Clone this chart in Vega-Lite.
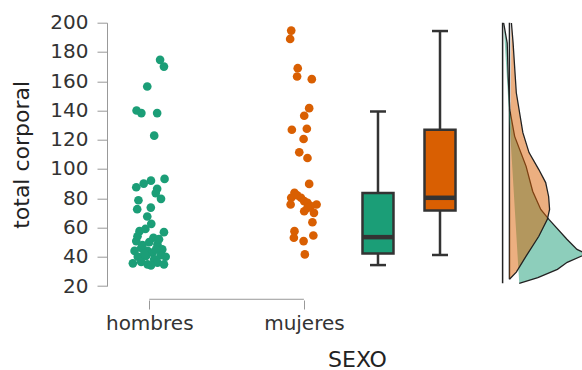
{
  "$schema": "https://vega.github.io/schema/vega-lite/v6.json",
  "autosize": "none",
  "width": 472,
  "height": 263.3,
  "padding": {"left": 110, "top": 22.7, "right": 0, "bottom": 84},
  "config": {"view": {"stroke": null}, "font": "DejaVu Sans", "axis": {"labelOverlap": false}, "axisY": {"labelOverlap": false, "tickCount": 10}},
  "datasets": {
    "points": [
      {"SEXO":"hombres","pos":1.070,"total":174.6},{"SEXO":"hombres","pos":1.095,"total":170},{"SEXO":"hombres","pos":0.987,"total":156.4},{"SEXO":"hombres","pos":0.918,"total":140},{"SEXO":"hombres","pos":0.949,"total":138.2},{"SEXO":"hombres","pos":1.051,"total":138.2},{"SEXO":"hombres","pos":1.032,"total":122.8},{"SEXO":"hombres","pos":1.099,"total":93.2},{"SEXO":"hombres","pos":1.011,"total":92},{"SEXO":"hombres","pos":0.964,"total":90},{"SEXO":"hombres","pos":0.916,"total":87.5},{"SEXO":"hombres","pos":1.051,"total":86.4},{"SEXO":"hombres","pos":1.042,"total":83.5},{"SEXO":"hombres","pos":1.076,"total":79.6},{"SEXO":"hombres","pos":0.930,"total":78.6},{"SEXO":"hombres","pos":0.922,"total":72.5},{"SEXO":"hombres","pos":1.010,"total":73.6},{"SEXO":"hombres","pos":0.987,"total":67.5},{"SEXO":"hombres","pos":1.013,"total":62.5},{"SEXO":"hombres","pos":1.095,"total":56.8},{"SEXO":"hombres","pos":0.937,"total":57.5},{"SEXO":"hombres","pos":0.975,"total":59},{"SEXO":"hombres","pos":1.027,"total":53},{"SEXO":"hombres","pos":0.916,"total":50.7},{"SEXO":"hombres","pos":1.053,"total":48.4},{"SEXO":"hombres","pos":0.948,"total":46},{"SEXO":"hombres","pos":1.084,"total":45},{"SEXO":"hombres","pos":0.905,"total":44},{"SEXO":"hombres","pos":0.989,"total":44},{"SEXO":"hombres","pos":1.021,"total":42.8},{"SEXO":"hombres","pos":1.074,"total":41},{"SEXO":"hombres","pos":0.926,"total":40},{"SEXO":"hombres","pos":0.979,"total":40.5},{"SEXO":"hombres","pos":1.106,"total":40},{"SEXO":"hombres","pos":1.032,"total":38.2},{"SEXO":"hombres","pos":0.948,"total":36.4},{"SEXO":"hombres","pos":1.053,"total":36},{"SEXO":"hombres","pos":0.989,"total":34.8},{"SEXO":"hombres","pos":1.095,"total":34.8},{"SEXO":"hombres","pos":0.894,"total":35.5},{"SEXO":"hombres","pos":1.011,"total":34},{"SEXO":"hombres","pos":0.956,"total":48},{"SEXO":"hombres","pos":1.0,"total":50},{"SEXO":"hombres","pos":0.924,"total":54},{"SEXO":"hombres","pos":1.063,"total":52},{"SEXO":"hombres","pos":0.968,"total":42},{"SEXO":"hombres","pos":1.044,"total":45},
      {"SEXO":"mujeres","pos":1.918,"total":194.6},{"SEXO":"mujeres","pos":1.911,"total":188.9},{"SEXO":"mujeres","pos":1.960,"total":168.9},{"SEXO":"mujeres","pos":1.956,"total":163.2},{"SEXO":"mujeres","pos":2.051,"total":161.4},{"SEXO":"mujeres","pos":2.034,"total":141.6},{"SEXO":"mujeres","pos":2.002,"total":136.4},{"SEXO":"mujeres","pos":2.019,"total":127.5},{"SEXO":"mujeres","pos":1.922,"total":126.8},{"SEXO":"mujeres","pos":1.998,"total":120.5},{"SEXO":"mujeres","pos":1.970,"total":111.4},{"SEXO":"mujeres","pos":2.023,"total":107.5},{"SEXO":"mujeres","pos":2.034,"total":89.8},{"SEXO":"mujeres","pos":1.939,"total":83.7},{"SEXO":"mujeres","pos":1.918,"total":80.3},{"SEXO":"mujeres","pos":1.981,"total":80.3},{"SEXO":"mujeres","pos":2.002,"total":78},{"SEXO":"mujeres","pos":1.914,"total":75.7},{"SEXO":"mujeres","pos":2.023,"total":76.8},{"SEXO":"mujeres","pos":2.082,"total":75.7},{"SEXO":"mujeres","pos":2.044,"total":74.6},{"SEXO":"mujeres","pos":2.002,"total":71.1},{"SEXO":"mujeres","pos":2.065,"total":70},{"SEXO":"mujeres","pos":2.055,"total":63.6},{"SEXO":"mujeres","pos":1.939,"total":57.5},{"SEXO":"mujeres","pos":1.935,"total":53},{"SEXO":"mujeres","pos":2.061,"total":54.5},{"SEXO":"mujeres","pos":1.998,"total":50.7},{"SEXO":"mujeres","pos":2.006,"total":41.6},{"SEXO":"mujeres","pos":2.023,"total":73.4},{"SEXO":"mujeres","pos":1.956,"total":82}
    ],
    "box": [
      {"SEXO":"hombres","pos":2.479,"min":34.3,"q1":42.3,"median":53.4,"q3":83.6,"max":139.3},
      {"SEXO":"mujeres","pos":2.880,"min":41.2,"q1":71.6,"median":80.3,"q3":126.8,"max":194.3}
    ],
    "base": [
      {"SEXO":"hombres","pos":3.2848,"top":200,"bottom":21.8},
      {"SEXO":"mujeres","pos":3.3291,"top":200,"bottom":24.6}
    ],
    "density": [
      {"SEXO":"hombres","v":200,"pos":3.2911},{"SEXO":"hombres","v":186,"pos":3.3146},{"SEXO":"hombres","v":163,"pos":3.3209},{"SEXO":"hombres","v":140.5,"pos":3.3310},{"SEXO":"hombres","v":122.3,"pos":3.3627},{"SEXO":"hombres","v":101.8,"pos":3.4367},{"SEXO":"hombres","v":84.8,"pos":3.4791},{"SEXO":"hombres","v":72.3,"pos":3.5316},{"SEXO":"hombres","v":65.5,"pos":3.5842},{"SEXO":"hombres","v":52,"pos":3.7006},{"SEXO":"hombres","v":45,"pos":3.7658},{"SEXO":"hombres","v":42,"pos":3.8291},{"SEXO":"hombres","v":36.2,"pos":3.7025},{"SEXO":"hombres","v":31.4,"pos":3.6392},{"SEXO":"hombres","v":25.7,"pos":3.5127},{"SEXO":"hombres","v":21.8,"pos":3.3924},
      {"SEXO":"mujeres","v":199.8,"pos":3.3418},{"SEXO":"mujeres","v":186.2,"pos":3.3525},{"SEXO":"mujeres","v":152.1,"pos":3.3734},{"SEXO":"mujeres","v":124.8,"pos":3.4158},{"SEXO":"mujeres","v":111.2,"pos":3.4557},{"SEXO":"mujeres","v":99.6,"pos":3.5190},{"SEXO":"mujeres","v":90.7,"pos":3.5633},{"SEXO":"mujeres","v":81.2,"pos":3.5823},{"SEXO":"mujeres","v":72.3,"pos":3.5886},{"SEXO":"mujeres","v":65.6,"pos":3.5741},{"SEXO":"mujeres","v":54.0,"pos":3.5190},{"SEXO":"mujeres","v":40.4,"pos":3.4367},{"SEXO":"mujeres","v":29.5,"pos":3.3734},{"SEXO":"mujeres","v":24.6,"pos":3.3291}
    ]
  },
  "layer": [
    {
      "data": {"name": "points"},
      "mark": {"type": "circle", "size": 75, "opacity": 1},
      "encoding": {
        "x": {"field": "pos", "type": "quantitative", "scale": {"domain": [0.77848, 3.76582], "nice": false, "zero": false},
          "axis": {"title": "SEXO", "values": [1, 2], "labelExpr": "datum.value == 1 ? 'hombres' : 'mujeres'", "domain": false, "grid": false, "offset": 14, "tickSize": 9, "tickColor": "#999999", "labelFontSize": 20, "labelColor": "#333333", "labelPadding": 4, "titleFontSize": 22, "titleFontWeight": "normal", "titleColor": "#222222", "titleX": 247, "titleY": 66, "titleBaseline": "alphabetic"}},
        "y": {"field": "total", "type": "quantitative", "scale": {"domain": [20, 200], "nice": false, "zero": false},
          "axis": {"title": "total corporal", "tickCount": 10, "grid": false, "offset": 3, "domainColor": "#999999", "tickColor": "#999999", "tickSize": 10, "labelFontSize": 20, "labelColor": "#333333", "labelPadding": 9, "labelOverlap": false, "labelBound": false, "labelFlush": false, "titleFontSize": 22, "titleFontWeight": "normal", "titleColor": "#222222", "titleX": -79, "titleBaseline": "alphabetic"}},
        "color": {"field": "SEXO", "type": "nominal", "scale": {"domain": ["hombres", "mujeres"], "range": ["#1b9e77", "#d95f02"]}, "legend": null}
      }
    },
    {
      "data": {"values": [{}]},
      "mark": {"type": "rule", "color": "#999999", "strokeWidth": 1},
      "encoding": {
        "x": {"datum": 1, "type": "quantitative"},
        "x2": {"datum": 2},
        "y": {"datum": 10.93, "type": "quantitative"}
      }
    },
    {
      "data": {"name": "box"},
      "mark": {"type": "rule", "color": "#333333", "strokeWidth": 2.5},
      "encoding": {
        "x": {"field": "pos", "type": "quantitative"},
        "y": {"field": "min", "type": "quantitative"},
        "y2": {"field": "max"}
      }
    },
    {
      "data": {"name": "box"},
      "mark": {"type": "tick", "orient": "horizontal", "color": "#333333", "size": 16, "thickness": 2.5, "opacity": 1},
      "encoding": {
        "x": {"field": "pos", "type": "quantitative"},
        "y": {"field": "min", "type": "quantitative"}
      }
    },
    {
      "data": {"name": "box"},
      "mark": {"type": "tick", "orient": "horizontal", "color": "#333333", "size": 16, "thickness": 2.5, "opacity": 1},
      "encoding": {
        "x": {"field": "pos", "type": "quantitative"},
        "y": {"field": "max", "type": "quantitative"}
      }
    },
    {
      "data": {"name": "box"},
      "mark": {"type": "bar", "size": 31, "stroke": "#333333", "strokeWidth": 2.5, "opacity": 1},
      "encoding": {
        "x": {"field": "pos", "type": "quantitative"},
        "y": {"field": "q1", "type": "quantitative"},
        "y2": {"field": "q3"},
        "color": {"field": "SEXO", "type": "nominal", "legend": null}
      }
    },
    {
      "data": {"name": "box"},
      "mark": {"type": "tick", "orient": "horizontal", "color": "#333333", "size": 31, "thickness": 4.5, "opacity": 1},
      "encoding": {
        "x": {"field": "pos", "type": "quantitative"},
        "y": {"field": "median", "type": "quantitative"}
      }
    },
    {
      "data": {"name": "base"},
      "mark": {"type": "rule", "color": "#222222", "strokeWidth": 1.5},
      "encoding": {
        "x": {"field": "pos", "type": "quantitative"},
        "y": {"field": "top", "type": "quantitative"},
        "y2": {"field": "bottom"}
      }
    },
    {
      "data": {"name": "density"},
      "transform": [{"filter": "datum.SEXO == 'hombres'"}],
      "mark": {"type": "line", "fill": "#1b9e77", "fillOpacity": 0.5, "stroke": "#222222", "strokeWidth": 1.3, "clip": true},
      "encoding": {
        "x": {"field": "pos", "type": "quantitative"},
        "y": {"field": "v", "type": "quantitative"},
        "order": {"field": "v", "sort": "descending"}
      }
    },
    {
      "data": {"name": "density"},
      "transform": [{"filter": "datum.SEXO == 'mujeres'"}],
      "mark": {"type": "line", "fill": "#d95f02", "fillOpacity": 0.5, "stroke": "#222222", "strokeWidth": 1.3, "clip": true},
      "encoding": {
        "x": {"field": "pos", "type": "quantitative"},
        "y": {"field": "v", "type": "quantitative"},
        "order": {"field": "v", "sort": "descending"}
      }
    }
  ]
}
